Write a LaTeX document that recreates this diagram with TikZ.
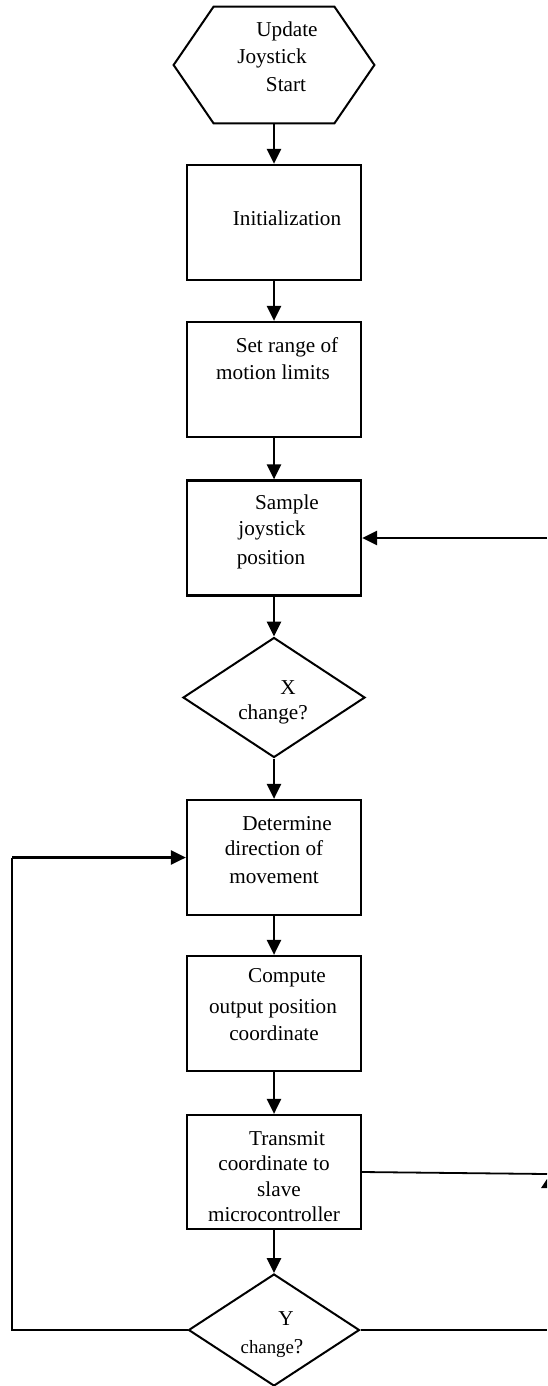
\documentclass[tikz,border=0pt]{standalone}
\usepackage{fontspec}
\setmainfont{Liberation Serif}
\usetikzlibrary{arrows.meta,shapes.geometric}
\begin{document}
\begin{tikzpicture}[x=0.5pt,y=-0.5pt,
  box/.style={draw,line width=1.1pt,minimum width=87pt,minimum height=57.5pt,inner sep=0pt},
  decision/.style={diamond,draw,line width=1pt,minimum width=91pt,minimum height=60pt,inner sep=0pt},
  lbl/.style={inner sep=0pt,anchor=base,font=\fontsize{10.6pt}{13pt}\selectfont},
  flow/.style={line width=1.3pt,-{Triangle[width=7pt,length=7.5pt]}},
  plain/.style={line width=1.2pt}]
\useasboundingbox (0,0) rectangle (547,1386);

% start terminal (hexagon drawn around an empty frame node)
\node[minimum width=100pt,minimum height=58pt,inner sep=0pt] (start) at (274,65) {};
\draw[line width=1pt] (start.west) -- ([xshift=20pt]start.north west) -- ([xshift=-20pt]start.north east)
  -- (start.east) -- ([xshift=-20pt]start.south east) -- ([xshift=20pt]start.south west) -- cycle;
\node[lbl] (s1) at (287,37) {Update};
\node[lbl] (s2) at (272,64) {Joystick};
\node[lbl] (s3) at (286,91) {Start};

% process boxes
\node[box] (init) at (274,222.5) {};
\node[lbl] (i1) at (287,225) {Initialization};

\node[box] (range) at (274,379.5) {};
\node[lbl] (r1) at (287,352) {Set range of};
\node[lbl] (r2) at (273,379) {motion limits};

\node[box] (sample) at (274,538) {};
\node[lbl] (p1) at (287,509) {Sample};
\node[lbl] (p2) at (272,535) {joystick};
\node[lbl] (p3) at (271,564) {position};

\node[decision] (xch) at (274,697.5) {};
\node[lbl] (x1) at (288,694) {X};
\node[lbl] (x2) at (273,719) {change?};

\node[box] (det) at (274,857.5) {};
\node[lbl] (d1) at (287,830) {Determine};
\node[lbl] (d2) at (274,855) {direction of};
\node[lbl] (d3) at (274,883) {movement};

\node[box] (comp) at (274,1013.5) {};
\node[lbl] (c1) at (287,982) {Compute};
\node[lbl] (c2) at (273,1013) {output position};
\node[lbl] (c3) at (274,1040) {coordinate};

\node[box,minimum height=57pt] (tx) at (274,1172) {};
\node[lbl] (t1) at (287,1145) {Transmit};
\node[lbl] (t2) at (274,1170) {coordinate to};
\node[lbl] (t3) at (279,1196) {slave};
\node[lbl] (t4) at (274,1221) {microcontroller};

\node[decision,minimum width=85.5pt,minimum height=56pt] (ych) at (274,1330) {};
\node[lbl] (y1) at (286,1325) {Y};
\node[lbl] (y2) at (272,1353) {{\fontsize{9.4pt}{12pt}\selectfont change}?};

% main flow
\draw[flow] (start.south) -- (init.north);
\draw[flow] (init.south) -- (range.north);
\draw[flow] (range.south) -- (sample.north);
\draw[flow] (sample.south) -- (xch.north);
\draw[flow] (xch.south) -- (det.north);
\draw[flow] (det.south) -- (comp.north);
\draw[flow] (comp.south) -- (tx.north);
\draw[flow] (tx.south) -- (ych.north);

% loop back from the Y decision
\coordinate (loop) at (12,1330);
\draw[line width=0.9pt] (ych.west) -- (loop) -- (loop |- det.west);
\draw[flow] (loop |- det.west) -- (det.west);

% lines running off the right edge
\coordinate (rin) at (547,538);
\draw[flow] (rin) -- (sample.east);
\coordinate (rtx) at (547,1174);
\draw[line width=0.9pt] (tx.east) -- (rtx);
\coordinate (ry) at (547,1330);
\draw[plain] (ych.east) -- (ry);
\fill (541,1188) -- (547,1179) -- (547,1188) -- cycle;
\end{tikzpicture}
\end{document}
